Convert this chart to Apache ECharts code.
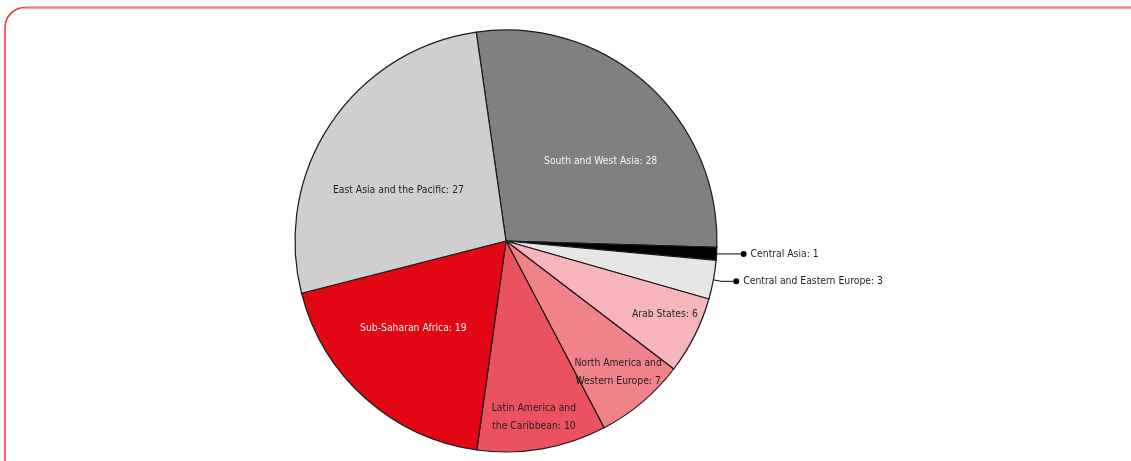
<!DOCTYPE html>
<html>
<head>
<meta charset="utf-8">
<script src="https://cdn.jsdelivr.net/npm/echarts@6/dist/echarts.min.js"></script>
<style>
  html, body { margin: 0; padding: 0; background: #fff; }
  #chart { width: 1131px; height: 461px; }
</style>
</head>
<body>
<div id="chart"></div>
<script>
// ---- data ----
const categories = [
  'South and West Asia',
  'Central Asia',
  'Central and Eastern Europe',
  'Arab States',
  'North America and Western Europe',
  'Latin America and the Caribbean',
  'Sub-Saharan Africa',
  'East Asia and the Pacific'
];
const labelTexts = [
  'South and West Asia',
  'Central Asia',
  'Central and Eastern Europe',
  'Arab States',
  'North America and\nWestern Europe',
  'Latin America and\nthe Caribbean',
  'Sub-Saharan Africa',
  'East Asia and the Pacific'
];
const values = [28, 1, 3, 6, 7, 10, 19, 27];
const colors = ['#808080', '#000000', '#e6e6e6', '#f6b5ba', '#f08289', '#eb5160', '#e30613', '#cfcfcf'];

// ---- options ----
const FONT = "'Liberation Sans Narrow', 'DejaVu Sans Condensed', sans-serif";
const FS = 10.3;
const center = [506, 241];
const R = 211;
const startAngle = 98.1;
const lightText = [0, 6];           // indices with white label text
const outsideIdx = [1, 2];          // labels with leader lines
const innerRing = [0, 6, 7];        // labels on the inner ring
const outerRing = [3, 4, 5];        // labels on the outer ring
const lineCfg = { 1: [2, 22], 2: [8, 12] };
const nudge = { 0: [10, 15], 7: [-2, 20], 6: [-8, -7], 3: [-2, -7], 4: [-4, -6], 5: [-3, -1] };

const mainData = categories.map((c, i) => {
  const item = { name: c, value: values[i], itemStyle: { color: colors[i] } };
  if (outsideIdx.includes(i)) {
    item.label = {
      show: true,
      position: 'outside',
      formatter: '{d|}{t|' + labelTexts[i] + ': ' + values[i] + '}',
      distanceToLabelLine: 0,
      rich: {
        d: { width: 6, height: 6, borderRadius: 3, backgroundColor: '#000' },
        t: { fontFamily: FONT, fontSize: FS, color: '#231f20', padding: [0, 0, 0, 4] }
      }
    };
    item.labelLine = { show: true, length: lineCfg[i][0], length2: lineCfg[i][1], lineStyle: { color: '#000', width: 1 } };
  }
  return item;
});

function labelSeries(ring, outerRadius) {
  return {
    type: 'pie',
    center: center,
    radius: [0, outerRadius],
    startAngle: startAngle,
    clockwise: true,
    silent: true,
    avoidLabelOverlap: false,
    emphasis: { disabled: true },
    itemStyle: { color: 'rgba(0,0,0,0)', borderWidth: 0 },
    labelLine: { show: false },
    label: { show: false },
    z: 5,
    data: categories.map((c, i) => ({
      name: c,
      value: values[i],
      label: {
        show: ring.includes(i),
        position: 'inside',
        formatter: labelTexts[i] + ': ' + values[i],
        fontFamily: FONT,
        fontSize: FS,
        lineHeight: 18,
        offset: nudge[i] || [0, 0],
        color: lightText.includes(i) ? '#f4f4f4' : '#231f20'
      }
    }))
  };
}

const option = {
  animation: false,
  graphic: [
    {
      type: 'rect',
      shape: { x: 5, y: 7.5, width: 1300, height: 700, r: [20, 0, 0, 0] },
      style: { fill: 'none', stroke: '#e6303f', lineWidth: 1.5 },
      silent: true
    },
    {
      type: 'line',
      shape: { x1: 25, y1: 7.5, x2: 1140, y2: 7.5 },
      style: { stroke: '#ef7d84', lineWidth: 2 },
      silent: true
    }
  ],
  series: [
    {
      type: 'pie',
      center: center,
      radius: [0, R],
      startAngle: startAngle,
      clockwise: true,
      avoidLabelOverlap: false,
      emphasis: { disabled: true },
      itemStyle: { borderColor: '#1a1a1a', borderWidth: 1.2 },
      label: { show: false },
      labelLine: { show: false },
      data: mainData
    },
    labelSeries(innerRing, 248),
    labelSeries(outerRing, 354)
  ]
};

const chart = echarts.init(document.getElementById('chart'), null, { renderer: 'canvas' });
chart.setOption(option);
</script>
</body>
</html>
